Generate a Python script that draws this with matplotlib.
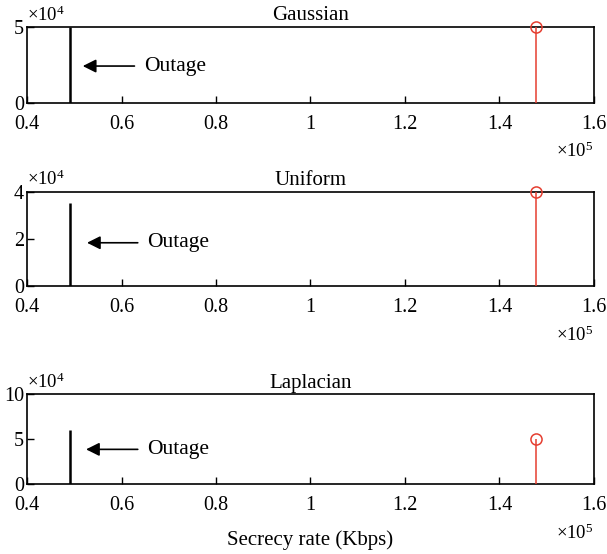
import matplotlib
matplotlib.use("Agg")
import matplotlib.pyplot as plt
from matplotlib.ticker import FuncFormatter

plt.rcParams["font.family"] = ["Liberation Serif", "DejaVu Serif"]
plt.rcParams["mathtext.fontset"] = "custom"
plt.rcParams["mathtext.rm"] = "Liberation Serif"
plt.rcParams["mathtext.it"] = "Liberation Serif:italic"

# secrecy rate histograms for the three noise models
titles = ["Gaussian", "Uniform", "Laplacian"]
outage_rate = [0.492e5, 0.492e5, 0.492e5]
outage_count = [5e4, 3.52e4, 6e4]
peak_rate = [1.477e5, 1.477e5, 1.477e5]
peak_count = [5e4, 4e4, 5e4]
y_max = [5e4, 4e4, 10e4]
y_ticks = [[0, 5e4], [0, 2e4, 4e4], [0, 5e4, 10e4]]
x_ticks = [0.4e5, 0.6e5, 0.8e5, 1.0e5, 1.2e5, 1.4e5, 1.6e5]
# arrow tip (x, y) and label start x for the "Outage" annotation
arrow_tip = [(0.518e5, 2.43e4), (0.527e5, 1.85e4), (0.525e5, 3.9e4)]
label_x = [0.648e5, 0.655e5, 0.655e5]

# axes boxes in figure fractions [left, bottom, width, height]
boxes = [
    [0.0445, 0.8141, 0.934, 0.1372],
    [0.0445, 0.4829, 0.934, 0.1706],
    [0.0445, 0.1255, 0.934, 0.1625],
]

fig = plt.figure(figsize=(6.07, 5.54), dpi=100)
red = "#e53e30"


def fmt_x(v, pos):
    return "%g" % (v / 1e5)


def fmt_y(v, pos):
    return "%g" % (v / 1e4)


for i in range(3):
    ax = fig.add_axes(boxes[i])

    # outage bar (black) and peak stem (red)
    ax.vlines(outage_rate[i], 0, outage_count[i], color="black", lw=1.8, zorder=3)
    ax.vlines(peak_rate[i], 0, peak_count[i], color=red, lw=1.1, zorder=3)
    ax.plot([peak_rate[i]], [peak_count[i]], "o", mfc="none", mec=red,
            ms=8, mew=1.1, zorder=4, clip_on=False)

    ax.set_xlim(0.4e5, 1.6e5)
    ax.set_ylim(0, y_max[i])
    ax.set_xticks(x_ticks)
    ax.set_yticks(y_ticks[i])
    ax.xaxis.set_major_formatter(FuncFormatter(fmt_x))
    ax.yaxis.set_major_formatter(FuncFormatter(fmt_y))
    ax.tick_params(direction="in", length=5, width=1.0, labelsize=14.5,
                   top=False, right=False)
    ax.tick_params(axis="x", pad=8.5)
    ax.tick_params(axis="y", pad=2)
    for sp in ax.spines.values():
        sp.set_linewidth(1.2)

    ax.set_title(titles[i], fontsize=15, pad=5)

    ax.annotate("Outage", xy=arrow_tip[i], xytext=(label_x[i], arrow_tip[i][1]),
                fontsize=15.5, va="center", ha="left",
                arrowprops=dict(arrowstyle="-|>", color="black", lw=1.2,
                                mutation_scale=20, shrinkA=5, shrinkB=0))

    # exponent labels
    ax.text(0.0, 1.03, "×10$^{4}$", transform=ax.transAxes, fontsize=13.5,
            ha="left", va="bottom")
    ax.annotate("×10$^{5}$", xy=(1.0, 0.0), xycoords="axes fraction",
                xytext=(0, -35), textcoords="offset points",
                fontsize=13.5, ha="right", va="center")

ax.set_xlabel("Secrecy rate (Kbps)", fontsize=15, labelpad=11)

fig.savefig("out.png", dpi=100)
